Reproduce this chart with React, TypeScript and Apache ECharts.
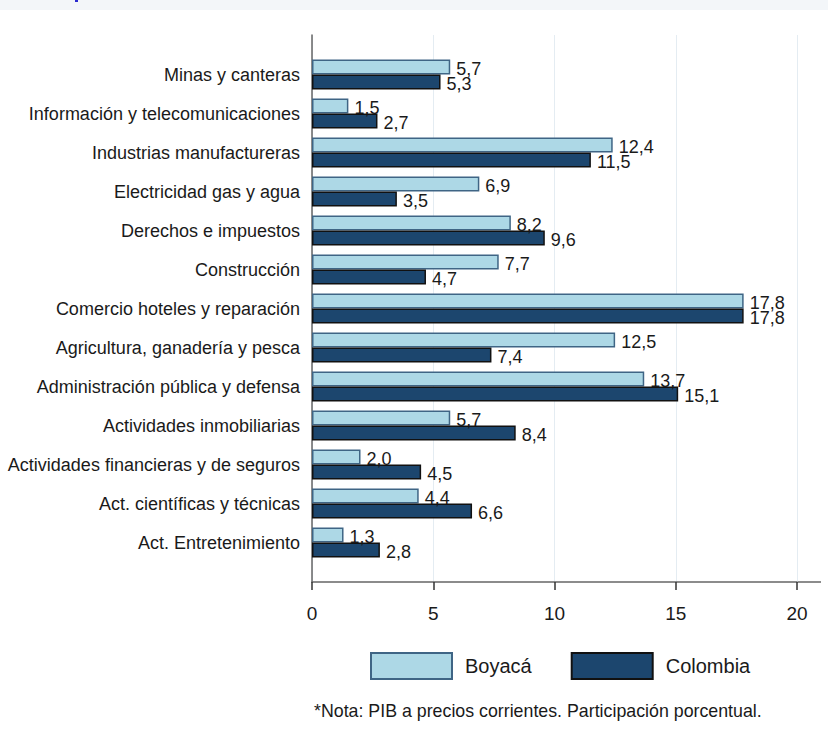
import React, { useEffect, useRef } from "react";
import * as echarts from "echarts";

const categories = [
  "Minas y canteras",
  "Información y telecomunicaciones",
  "Industrias manufactureras",
  "Electricidad gas y agua",
  "Derechos e impuestos",
  "Construcción",
  "Comercio hoteles y reparación",
  "Agricultura, ganadería y pesca",
  "Administración pública y defensa",
  "Actividades inmobiliarias",
  "Actividades financieras y de seguros",
  "Act. científicas y técnicas",
  "Act. Entretenimiento",
];
const boyaca = [5.7, 1.5, 12.4, 6.9, 8.2, 7.7, 17.8, 12.5, 13.7, 5.7, 2.0, 4.4, 1.3];
const colombia = [5.3, 2.7, 11.5, 3.5, 9.6, 4.7, 17.8, 7.4, 15.1, 8.4, 4.5, 6.6, 2.8];
const seriesNames = ["Boyacá", "Colombia"];
const note = "*Nota: PIB a precios corrientes. Participación porcentual.";

const FONT = "'Liberation Sans', Arial, sans-serif";

export default function App() {
  const ref = useRef<HTMLDivElement>(null);
  useEffect(() => {
    if (!ref.current) return;
    const chart = echarts.init(ref.current, null, { renderer: "svg" });
    const fmt = (p: any) => Number(p.value).toFixed(1).replace(".", ",");
    const labelStyle = {
      show: true,
      position: "right",
      distance: 6,
      offset: [0, 2],
      formatter: fmt,
      fontSize: 18,
      color: "#1a1a1a",
      fontFamily: FONT,
    };
    chart.setOption({
      animation: false,
      backgroundColor: "#ffffff",
      textStyle: { fontFamily: FONT },
      grid: [
        { left: 312, width: 485, top: 55, height: 507 },
        { left: 312, width: 485, top: 35, height: 547 },
      ],
      xAxis: [
        {
          gridIndex: 0,
          type: "value",
          min: 0,
          max: 20,
          show: false,
        },
        {
          gridIndex: 1,
          type: "value",
          min: 0,
          max: 20,
          interval: 5,
          axisLine: { show: true, lineStyle: { color: "#666", width: 1.5 } },
          axisTick: { show: true, length: 8, lineStyle: { color: "#333", width: 1.5 } },
          axisLabel: { fontSize: 19, color: "#1a1a1a", margin: 22, fontFamily: FONT },
          splitLine: { show: true, lineStyle: { color: "#e4ecf2", width: 1 } },
        },
      ],
      yAxis: [
        {
          gridIndex: 0,
          type: "category",
          inverse: true,
          data: categories,
          axisLine: { show: false },
          axisTick: { show: false },
          axisLabel: { fontSize: 18, color: "#1a1a1a", margin: 12, fontFamily: FONT },
        },
        {
          gridIndex: 1,
          type: "value",
          min: 0,
          max: 1,
          axisLine: { show: true, lineStyle: { color: "#666", width: 1.5 } },
          axisTick: { show: false },
          axisLabel: { show: false },
          splitLine: { show: false },
        },
      ],
      legend: {
        left: 370,
        top: 652,
        padding: 0,
        itemWidth: 81,
        itemHeight: 26,
        itemGap: 39,
        icon: "rect",
        data: seriesNames,
        textStyle: { fontSize: 20, color: "#1a1a1a", fontFamily: FONT, padding: [0, 0, 0, 8] },
      },
      series: [
        {
          name: seriesNames[0],
          type: "bar",
          xAxisIndex: 0,
          yAxisIndex: 0,
          data: boyaca,
          barWidth: 15,
          barGap: "0%",
          itemStyle: { color: "#add8e6", borderColor: "#3f6585", borderWidth: 1.5 },
          label: labelStyle,
        },
        {
          name: seriesNames[1],
          type: "bar",
          xAxisIndex: 0,
          yAxisIndex: 0,
          data: colombia,
          barWidth: 15,
          barGap: "0%",
          itemStyle: { color: "#1c466e", borderColor: "#111111", borderWidth: 1.5 },
          label: labelStyle,
        },
      ],
      graphic: [
        {
          type: "rect",
          shape: { x: 0, y: 0, width: 828, height: 10 },
          style: { fill: "#f3f6f9" },
          silent: true,
        },
        {
          type: "rect",
          shape: { x: 75, y: 0, width: 3, height: 2 },
          style: { fill: "#2a2ad0" },
          silent: true,
        },
        {
          type: "line",
          shape: { x1: 797, y1: 582, x2: 821, y2: 582 },
          style: { stroke: "#666", lineWidth: 1.5 },
          silent: true,
        },
        {
          type: "text",
          left: 314,
          top: 702,
          style: { text: note, fontSize: 17.8, fill: "#1a1a1a", fontFamily: FONT },
          silent: true,
        },
      ],
    });
    return () => chart.dispose();
  }, []);
  return (
    <div
      ref={ref}
      style={{ position: "fixed", left: 0, top: 0, width: 828, height: 747 }}
    />
  );
}
